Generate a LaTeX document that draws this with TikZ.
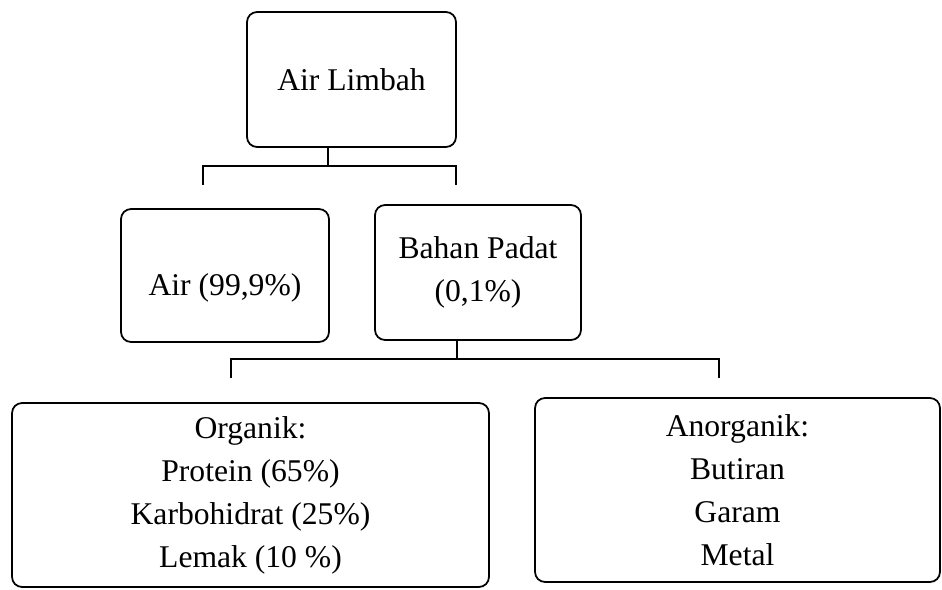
\documentclass[tikz,border=0pt]{standalone}
\usepackage{fontspec}
\setmainfont{Liberation Serif}
\begin{document}
\begin{tikzpicture}[x=0.02cm,y=-0.02cm,
  kotak/.style={draw,line width=1pt,rounded corners=0.2cm,align=center,inner sep=0pt,font=\fontsize{18}{24.5}\selectfont},
  garis/.style={line width=1pt}]
\useasboundingbox (0,0) rectangle (942,589);

%%%Top box
\node[kotak,minimum width=4.18cm,minimum height=2.7cm] (limbah) at (351.5,79.5) {Air Limbah};

%%%Second row
\node[kotak,minimum width=4.16cm,minimum height=2.66cm,text height=27pt,text depth=4.5pt] (air) at (225,275.5) {Air (99,9\%)};
\node[kotak,minimum width=4.12cm,minimum height=2.7cm] (padat) at (478,272.5) {Bahan Padat\\(0,1\%)};
%Bracket from Air Limbah
\coordinate (j1) at (328,166);
\coordinate (a1) at (203,185);
\coordinate (b1) at (456,185);
\draw[garis] (j1 |- limbah.south) -- (j1);
\draw[garis] (a1) |- (j1) -| (b1);

%%%Bottom row
\node[kotak,minimum width=9.54cm,minimum height=3.68cm] (organik) at (250.5,495) {Organik:\\Protein (65\%)\\Karbohidrat (25\%)\\Lemak (10 \%)};
\node[kotak,minimum width=8.1cm,minimum height=3.68cm] (anorganik) at (737.5,490) {Anorganik:\\Butiran\\Garam\\Metal};
%Bracket from Bahan Padat
\coordinate (j2) at (457,359);
\coordinate (a2) at (231,378);
\coordinate (b2) at (719,378);
\draw[garis] (j2 |- padat.south) -- (j2);
\draw[garis] (a2) |- (j2) -| (b2);

\end{tikzpicture}
\end{document}
